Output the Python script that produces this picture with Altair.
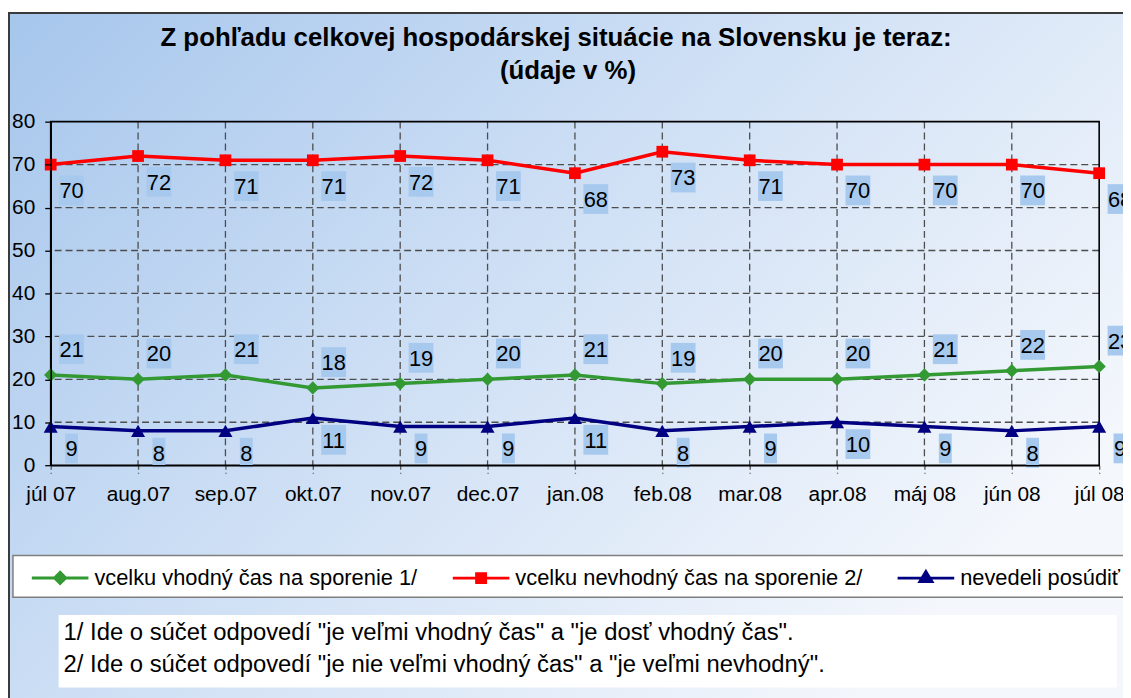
import altair as alt
import pandas as pd

# ---------------- data ----------------
MONTHS = ["júl 07", "aug.07", "sep.07", "okt.07", "nov.07", "dec.07", "jan.08",
          "feb.08", "mar.08", "apr.08", "máj 08", "jún 08", "júl 08"]
SERIES = ["vcelku vhodný čas na sporenie 1/",
          "vcelku nevhodný čas na sporenie 2/",
          "nevedeli posúdiť"]
VHODNY = [21, 20, 21, 18, 19, 20, 21, 19, 20, 20, 21, 22, 23]
NEVHODNY = [70, 72, 71, 71, 72, 71, 68, 73, 71, 70, 70, 70, 68]
NEVEDELI = [9, 8, 8, 11, 9, 9, 11, 8, 9, 10, 9, 8, 9]
Y_TICKS = [0, 10, 20, 30, 40, 50, 60, 70, 80]
TITLE_LINES = ["Z pohľadu celkovej hospodárskej situácie na Slovensku je teraz:",
               "(údaje v %)"]
FOOTNOTES = ['1/ Ide o súčet odpovedí "je veľmi vhodný čas" a  "je dosť vhodný čas".',
             '2/ Ide o súčet odpovedí "je nie veľmi vhodný čas" a "je veľmi nevhodný".']

# ---------------- styles ----------------
COLORS = ["#339933", "#ff0000", "#000080"]
MARKERS = ["diamond", "square", "triangle-up"]
MARKER_SIZE = [180, 140, 200]
LEG_PATHS = [
    "M-2.85,0H2.85M0,-0.55L0.55,0L0,0.55L-0.55,0Z",
    "M-2.85,0H2.85M-0.45,-0.45H0.45V0.45H-0.45Z",
    "M-2.85,0H2.85M0,-0.65L0.6,0.35L-0.6,0.35Z",
]
LABEL_DX = 21
LABEL_DY = [-26, 26, 22]
BOX_COLOR = "#a8c9ee"
FONT = "Liberation Sans"
W, H = 1056, 346
PAD = {"left": 43, "top": 112, "right": 24, "bottom": 232}

rows = []
for s, vals in zip(SERIES, [VHODNY, NEVHODNY, NEVEDELI]):
    for m, v in zip(MONTHS, vals):
        rows.append({"month": m, "series": s, "value": v, "digits": len(str(v))})
df = pd.DataFrame(rows)
ONE = pd.DataFrame({"k": [0]})

X_AXIS = alt.Axis(title=None, labelFontSize=21, labelFont=FONT, labelColor="black",
                  labelAngle=0, tickSize=8, tickDash=[4, 3], tickColor="#555555",
                  tickWidth=1.3, domainColor="black", domainWidth=1.6,
                  labelPadding=11, grid=False, zindex=1, labelOverlap=False)
Y_AXIS = alt.Axis(title=None, values=Y_TICKS, labelFontSize=21, labelFont=FONT,
                  labelColor="black", tickSize=6, tickColor="black", tickWidth=1.3,
                  domainColor="black", domainWidth=1.6, labelPadding=10,
                  grid=False, zindex=1)
X_SCALE = alt.Scale(type="point", padding=0)
Y_SCALE = alt.Scale(domain=[0, 80], nice=False)

LEG = alt.Legend(title=None, orient="none", legendX=-2, legendY=448, direction="horizontal",
                 labelFontSize=22, labelFont=FONT, labelColor="black", labelLimit=1000,
                 symbolSize=400, symbolStrokeWidth=3, labelOffset=23, columnPadding=29,
                 padding=0, symbolOpacity=1)

x_enc = alt.X("month:N", sort=MONTHS, scale=X_SCALE, axis=X_AXIS)
y_enc = alt.Y("value:Q", scale=Y_SCALE, axis=Y_AXIS)
color_enc = alt.Color("series:N", scale=alt.Scale(domain=SERIES, range=COLORS), legend=LEG)

# ---------------- decoration ----------------
grad = alt.LinearGradient(
    gradient="linear",
    stops=[alt.GradientStop(color="#a6c6ec", offset=0),
           alt.GradientStop(color="#cfe0f5", offset=0.5),
           alt.GradientStop(color="#f4f7fc", offset=1)],
    x1=0, y1=0, x2=1, y2=0.6)

bg = alt.Chart(ONE).mark_rect(fill=grad).encode(
    x=alt.value(-43), x2=alt.value(W + 30), y=alt.value(-110), y2=alt.value(H + 240))
frame = alt.Chart(ONE).mark_rect(fillOpacity=0, stroke="#3a3a3a", strokeWidth=2).encode(
    x=alt.value(-42), x2=alt.value(W + 100), y=alt.value(-109.5), y2=alt.value(H + 300))
legend_box = alt.Chart(ONE).mark_rect(fill="white", stroke="#7f7f7f", strokeWidth=1.5).encode(
    x=alt.value(-38), x2=alt.value(W + 100), y=alt.value(437), y2=alt.value(479))
foot_box = alt.Chart(ONE).mark_rect(fill="white").encode(
    x=alt.value(8), x2=alt.value(1074), y=alt.value(497), y2=alt.value(570))

grid_style = dict(strokeDash=[7, 4], color="#4d4d4d", strokeWidth=1.3)
hgrid = alt.Chart(pd.DataFrame({"value": Y_TICKS[1:-1]})).mark_rule(**grid_style).encode(y=y_enc)
vgrid = alt.Chart(pd.DataFrame({"month": MONTHS[1:-1]})).mark_rule(**grid_style).encode(x=x_enc)
border = alt.Chart(ONE).mark_rect(fillOpacity=0, stroke="black", strokeWidth=1.6).encode(
    x=alt.value(0), x2=alt.value(W), y=alt.value(0), y2=alt.value(H))

# ---------------- data marks ----------------
lines = alt.Chart(df).mark_line(strokeWidth=3.5).encode(x=x_enc, y=y_enc, color=color_enc)

layers_pts, layers_lbl = [], []
for i, s in enumerate(SERIES):
    base = alt.Chart(df).transform_filter(alt.datum.series == s)
    layers_pts.append(base.mark_point(shape=MARKERS[i], filled=True, opacity=1,
                                      size=MARKER_SIZE[i]).encode(x=x_enc, y=y_enc, color=color_enc))
    for d, bw in [(1, 13), (2, 25)]:
        layers_lbl.append(base.transform_filter(alt.datum.digits == d).mark_rect(
            width=bw, height=30, xOffset=LABEL_DX, yOffset=LABEL_DY[i], color=BOX_COLOR
        ).encode(x=x_enc, y=y_enc))
    layers_lbl.append(base.mark_text(dx=LABEL_DX, dy=LABEL_DY[i] + 1, fontSize=22, font=FONT,
                                     color="black", align="center", baseline="middle"
                                     ).encode(x=x_enc, y=y_enc, text="value:Q"))

# ---------------- texts ----------------
title1 = alt.Chart(ONE).mark_text(fontSize=26, fontWeight="bold", font=FONT, color="black",
                                  align="center", baseline="middle").encode(
    x=alt.value(509), y=alt.value(-84), text=alt.value(TITLE_LINES[0]))
title2 = alt.Chart(ONE).mark_text(fontSize=26, fontWeight="bold", font=FONT, color="black",
                                  align="center", baseline="middle").encode(
    x=alt.value(521), y=alt.value(-51), text=alt.value(TITLE_LINES[1]))
foot1 = alt.Chart(ONE).mark_text(fontSize=24, font=FONT, color="black",
                                 align="left", baseline="middle").encode(
    x=alt.value(13), y=alt.value(515), text=alt.value(FOOTNOTES[0]))
foot2 = alt.Chart(ONE).mark_text(fontSize=24, font=FONT, color="black",
                                 align="left", baseline="middle").encode(
    x=alt.value(13), y=alt.value(547), text=alt.value(FOOTNOTES[1]))

# ---------------- legend (drawn by the library) ----------------
leg_layer = alt.Chart(df).mark_point(filled=True, size=400, strokeWidth=3).encode(
    x=alt.value(-5000), y=alt.value(-5000),
    color=color_enc,
    stroke=alt.Stroke("series:N", scale=alt.Scale(domain=SERIES, range=COLORS), legend=LEG),
    shape=alt.Shape("series:N", scale=alt.Scale(domain=SERIES, range=LEG_PATHS), legend=LEG),
)

chart = alt.layer(
    bg, frame, legend_box, foot_box, hgrid, vgrid, border, lines,
    *layers_pts, *layers_lbl, title1, title2, foot1, foot2, leg_layer
).properties(
    width=W, height=H, padding=PAD, autosize=alt.AutoSizeParams(type="none")
).configure_view(strokeWidth=0)

chart.save("out.html", embed_options={"renderer": "svg", "actions": False})
